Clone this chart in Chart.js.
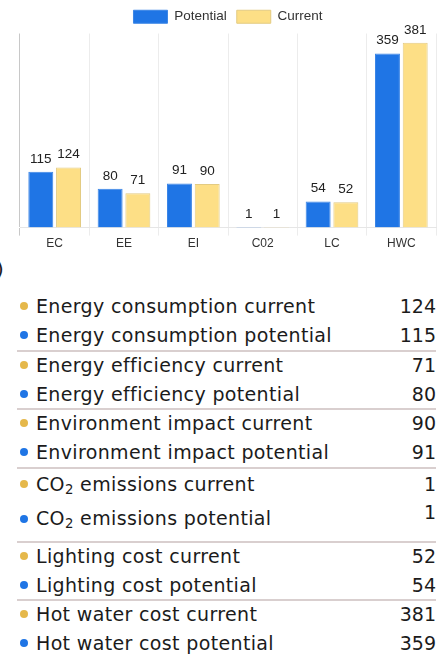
<!DOCTYPE html>
<html>
<head>
<meta charset="utf-8">
<script src="https://cdn.jsdelivr.net/npm/chart.js@4.4.1/dist/chart.umd.min.js"></script>
<style>
  body { margin:0; background:#fff; width:446px; height:655px; overflow:hidden; position:relative; }
  #chartBox { position:absolute; left:0; top:0; width:446px; height:252px; }
  .paren { position:absolute; left:-4px; top:257px; font:20px "DejaVu Sans", sans-serif; color:#1b1b1b; }
  #list { position:absolute; top:293px; left:17px; width:419px; padding-right:2px;
          font-family:"DejaVu Sans", sans-serif; font-size:19px; letter-spacing:0.35px; color:#1b1b1b; }
  .group { border-bottom:2px solid #d9cfcf; }
  .group:last-child { border-bottom:none; }
  .row { display:flex; align-items:center; height:29px; }
  .row:first-child { margin-top:-1.5px; }
  .dot { width:8px; height:8px; border-radius:50%; margin:0 8px 0 3px; flex:none; }
  .val { margin-left:auto; letter-spacing:0; }
  .group.co2 .row:first-child { height:32px; margin-top:-1px; }
  .row.tall { height:41px; align-items:flex-start; }
  .row.tall .dot { margin-top:15px; }
  .row.tall .name { padding-top:7px; }
  .row.tall .val { padding-top:1px; }
  sub { font-size:0.7em; vertical-align:-0.2em; line-height:0; }
</style>
</head>
<body>
<div id="chartBox"><canvas id="barChart"></canvas></div>
<span class="paren">)</span>
<div id="list"></div>

<script>
const categories = ["EC", "EE", "EI", "C02", "LC", "HWC"];
const potential = [115, 80, 91, 1, 54, 359];
const current = [124, 71, 90, 1, 52, 381];
const seriesNames = ["Potential", "Current"];
const itemNames = ["Energy consumption", "Energy efficiency", "Environment impact",
                   "CO<sub>2</sub> emissions", "Lighting cost", "Hot water cost"];

const blue = "#1f75e5";
const yellow = "#fddf86";
const dotYellow = "#e5b84b";

Chart.defaults.font.family = 'Arial, "Liberation Sans", sans-serif';

// numbers above the bars
const valueLabels = {
    id: "valueLabels",
    afterDatasetsDraw(chart){
        const ctx = chart.ctx;
        ctx.save();
        ctx.font = '13.5px Arial, "Liberation Sans", sans-serif';
        ctx.fillStyle = "#222";
        ctx.textAlign = "center";
        ctx.textBaseline = "alphabetic";
        chart.data.datasets.forEach((ds, i) => {
            chart.getDatasetMeta(i).data.forEach((bar, j) => {
                ctx.fillText(ds.data[j], bar.x, bar.y - 9);
            });
        });
        ctx.restore();
    }
};

new Chart(document.getElementById("barChart"), {
    type: "bar",
    data: {
        labels: categories,
        datasets: [
            { label: seriesNames[0], data: potential, backgroundColor: blue, borderColor: "#3c86e6", borderWidth: 1 },
            { label: seriesNames[1], data: current, backgroundColor: yellow, borderColor: "#e3cb82", borderWidth: 1 }
        ]
    },
    options: {
        responsive: true,
        maintainAspectRatio: false,
        animation: false,
        layout: { padding: { left: 20, right: 10, top: 0, bottom: 0 } },
        plugins: {
            legend: {
                labels: { boxWidth: 34, boxHeight: 13, color: "#333", font: { size: 13.5 } }
            },
            tooltip: { enabled: false }
        },
        scales: {
            x: {
                grid: {
                    color: ctx => ctx.index === 0 ? "#c8c8c8" : "#ececec",
                    tickLength: 8
                },
                border: { color: "#e6e6e6" },
                ticks: { color: "#333", font: { size: 12 }, padding: 1 }
            },
            y: { display: false, min: 0, max: 400 }
        }
    },
    plugins: [valueLabels]
});

// list under the chart
const list = document.getElementById("list");
itemNames.forEach((name, i) => {
    const group = document.createElement("div");
    const tall = name.includes("<sub>");
    group.className = tall ? "group co2" : "group";
    group.innerHTML = `
        <div class="row">
            <span class="dot" style="background:${dotYellow}"></span>
            <span class="name">${name} current</span>
            <span class="val">${current[i]}</span>
        </div>
        <div class="row${tall ? " tall" : ""}">
            <span class="dot" style="background:${blue}"></span>
            <span class="name">${name} potential</span>
            <span class="val">${potential[i]}</span>
        </div>`;
    list.appendChild(group);
});
</script>
</body>
</html>
